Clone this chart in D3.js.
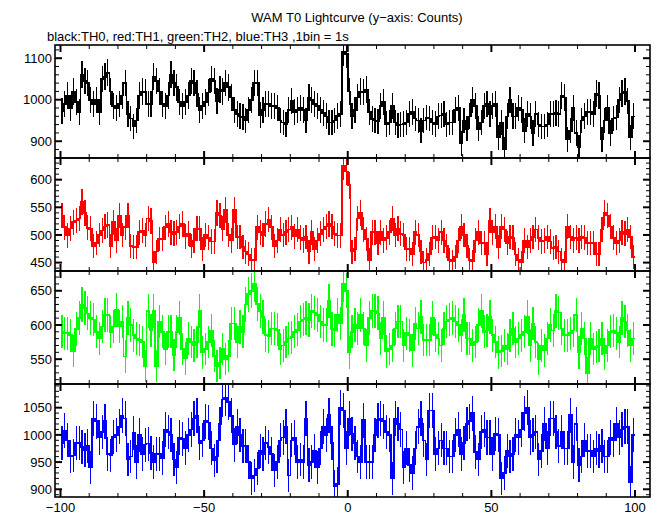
<!DOCTYPE html>
<html><head><meta charset="utf-8">
<script src="https://cdn.jsdelivr.net/npm/d3@7"></script>
<style>
body{margin:0;background:#fff}
svg{display:block}
text{font-family:"Liberation Sans",Arial,Helvetica,sans-serif;font-size:13px;fill:#000}
</style>
</head><body>
<svg id="c" width="662" height="515"></svg>
<script>
// ---------- data ----------
const binStart = -100, binWidth = 1;
const title = "WAM T0 Lightcurve (y\u2212axis: Counts)";
const subtitle = "black:TH0, red:TH1, green:TH2, blue:TH3 ,1bin = 1s";
const xTickLabels = [-100, -50, 0, 50, 100];

const th0 = [973,990,1010,980,1020,995,970,1060,1045,1040,
1000,990,1000,970,1050,1055,1065,1020,985,980,
990,1010,1040,965,955,935,950,1010,1020,1018,
990,990,1055,1045,1020,990,985,1010,1060,1040,
1030,995,985,995,1010,1045,1040,1015,975,985,
995,1017,1050,1045,997,1025,1020,1040,1030,1005,
975,965,960,958,950,975,1000,
1040,1040,963,975,990,990,985,985,980,950,
945,940,975,997,970,975,980,975,950,1005,
1000,990,985,975,968,960,945,945,950,961,
965,1115,1110,1020,960,975,1005,1020,1018,1025,
970,953,950,948,985,995,942,945,985,945,
938,940,942,945,965,970,955,950,925,950,
957,955,945,942,960,962,965,940,945,
945,975,980,895,950,930,960,1000,985,930,
945,985,990,965,985,990,910,945,880,960,
1000,960,960,980,975,925,965,960,920,965,
940,935,935,940,965,965,968,965,1010,1005,
905,925,980,920,885,950,960,970,970,965,
1015,1010,905,950,980,920,955,957,1000,1015,
1020,997,910,960];

const th1 = [535,514,499,512,523,526,530,560,540,513,
511,480,485,500,508,515,518,480,523,490,
535,500,514,535,480,478,478,505,508,500,
530,525,450,470,493,493,514,520,505,502,
505,515,520,497,502,480,490,511,511,475,
500,495,488,488,540,535,511,545,500,490,
545,496,496,478,470,465,455,
455,514,505,500,520,528,514,480,490,510,
500,505,510,514,497,510,495,490,496,470,
505,475,490,502,510,515,520,515,502,499,
499,625,615,590,470,475,530,540,510,493,
455,505,505,485,505,490,495,505,530,500,
511,502,500,475,475,466,505,500,470,450,
455,466,495,496,490,505,490,480,455,
452,460,490,515,500,480,455,452,490,505,
485,485,466,526,505,515,478,515,510,485,
496,495,465,455,450,490,478,490,496,510,
495,488,490,496,488,476,478,470,455,450,
515,496,490,495,490,496,495,485,485,485,
466,466,510,540,535,515,495,485,490,505,
502,510,496,460];

const th2 = [590,588,588,585,562,594,610,630,625,617,
610,608,590,580,598,615,615,590,598,622,
598,605,554,610,600,585,580,578,575,540,
620,592,620,540,605,590,565,590,590,556,
590,610,565,551,580,575,570,575,620,560,
565,575,592,555,540,545,565,550,555,602,
602,575,597,590,630,645,650,
660,631,620,612,585,583,595,595,593,565,
570,575,580,582,590,593,605,608,610,607,
620,618,615,605,600,600,635,594,592,615,
602,660,650,560,590,600,595,615,595,570,
610,620,620,617,580,610,561,565,570,595,
605,605,570,588,585,563,602,595,612,578,
578,578,610,585,580,570,595,605,608,
610,605,600,585,615,580,580,570,575,600,
620,590,592,612,585,575,560,562,570,565,
585,595,575,580,585,590,612,570,602,575,
550,570,563,580,600,592,620,618,595,585,
585,588,592,615,560,595,580,530,580,565,
568,570,580,558,570,590,592,588,575,610,
605,592,570,580];

const th3 = [985,1008,990,960,962,985,985,978,972,980,
940,1030,1025,995,1005,1025,965,962,996,1000,
1015,1035,1030,955,960,1003,950,1000,965,982,
984,967,950,965,965,957,1010,1005,1000,955,
940,995,992,975,1000,1010,1030,1035,985,990,
1025,1023,975,953,960,1020,1065,1068,1060,1035,
982,1015,1000,980,980,950,920,
925,938,970,965,985,978,965,935,950,990,
995,1015,925,990,995,950,955,950,1030,945,
950,970,940,975,1015,1000,1036,985,905,910,
1050,1045,975,1030,1002,985,960,950,1027,950,
950,950,1000,1027,1030,1025,1005,1000,920,1030,
1020,1010,940,975,945,930,975,1015,1030,990,
955,1045,1045,965,975,990,975,975,960,
960,1000,1010,965,985,1020,1025,1040,968,955,
1005,1010,995,995,965,1002,1000,920,930,970,
960,965,1000,995,1010,1040,1050,995,1000,1005,
955,970,1020,975,1030,1030,1005,980,1005,975,
975,1036,950,1020,945,960,990,970,970,960,
975,970,980,960,960,995,990,1020,995,1010,
1015,1015,913,1000];

const yTicks0 = [900, 1000, 1100];
const yTicks1 = [450, 500, 550, 600];
const yTicks2 = [550, 600, 650];
const yTicks3 = [900, 950, 1000, 1050];

// ---------- layout ----------
const svg = d3.select("#c");
const frameL = 55, frameR = 650;
const panelTop = [45, 158, 271, 384], panelH = 113;
const x = d3.scaleLinear().domain([-100, 100]).range([60.5, 635]);

const panels = [
  {vals: th0, color: "#000000", dom: [859.6, 1131.8], major: yTicks0, minor: 20},
  {vals: th1, color: "#ff0000", dom: [434.8, 639.2], major: yTicks1, minor: 10},
  {vals: th2, color: "#00ff00", dom: [513.7, 678.9], major: yTicks2, minor: 10},
  {vals: th3, color: "#0000ff", dom: [885.8, 1093.5], major: yTicks3, minor: 10}
];

svg.append("text").attr("x", 357).attr("y", 22).attr("text-anchor", "middle").text(title);
svg.append("text").attr("x", 47).attr("y", 41).text(subtitle);

const defs = svg.append("defs");

panels.forEach((p, k) => {
  const top = panelTop[k], bot = top + panelH;
  const y = d3.scaleLinear().domain(p.dom).range([bot, top]);
  const g = svg.append("g");
  defs.append("clipPath").attr("id", "clip" + k)
    .append("rect").attr("x", frameL).attr("y", top).attr("width", frameR - frameL).attr("height", panelH);
  const dg = g.append("g").attr("clip-path", `url(#clip${k})`);

  // error bars
  dg.selectAll("line.err").data(p.vals).join("line")
    .attr("class", "err")
    .attr("x1", (v, i) => x(binStart + (i + 0.5) * binWidth))
    .attr("x2", (v, i) => x(binStart + (i + 0.5) * binWidth))
    .attr("y1", v => y(v - Math.sqrt(v)))
    .attr("y2", v => y(v + Math.sqrt(v)))
    .attr("stroke", p.color).attr("stroke-width", 1.2).attr("shape-rendering", "crispEdges");

  // step line
  const pts = p.vals.map((v, i) => [binStart + i * binWidth, v]);
  pts.push([binStart + p.vals.length * binWidth, p.vals[p.vals.length - 1]]);
  const line = d3.line().x(d => x(d[0])).y(d => y(d[1])).curve(d3.curveStepAfter);
  dg.append("path").attr("d", line(pts)).attr("fill", "none")
    .attr("stroke", p.color).attr("stroke-width", 1.6).attr("shape-rendering", "crispEdges");

  // frame
  g.append("rect").attr("x", frameL).attr("y", top).attr("width", frameR - frameL).attr("height", panelH)
    .attr("fill", "none").attr("stroke", "#000").attr("stroke-width", 1.6);

  // x ticks (top and bottom, inward)
  const xt = d3.range(-100, 101, 10);
  xt.forEach(t => {
    const isMaj = t % 50 === 0;
    const L = isMaj ? 7 : 4;
    [[top, top + L], [bot, bot - L]].forEach(([a, b]) => {
      g.append("line").attr("x1", x(t)).attr("x2", x(t)).attr("y1", a).attr("y2", b)
        .attr("stroke", "#000").attr("stroke-width", isMaj ? 2 : 1);
    });
  });

  // y ticks (left and right, inward)
  const ymin = Math.ceil(p.dom[0] / p.minor) * p.minor;
  const yt = d3.range(ymin, p.dom[1], p.minor);
  yt.forEach(t => {
    const isMaj = p.major.includes(t);
    const L = isMaj ? 7 : 4;
    [[frameL, frameL + L], [frameR, frameR - L]].forEach(([a, b]) => {
      g.append("line").attr("x1", a).attr("x2", b).attr("y1", y(t)).attr("y2", y(t))
        .attr("stroke", "#000").attr("stroke-width", isMaj ? 2 : 1);
    });
  });

  // y labels
  p.major.forEach(t => {
    g.append("text").attr("x", frameL - 3).attr("y", y(t)).attr("dy", "0.36em")
      .attr("text-anchor", "end").text(String(t));
  });
});

// x labels
const lastBot = panelTop[3] + panelH;
xTickLabels.forEach(t => {
  svg.append("text").attr("x", x(t)).attr("y", lastBot + 15).attr("text-anchor", "middle")
    .text(String(t).replace("-", "\u2212"));
});
</script>
</body></html>
